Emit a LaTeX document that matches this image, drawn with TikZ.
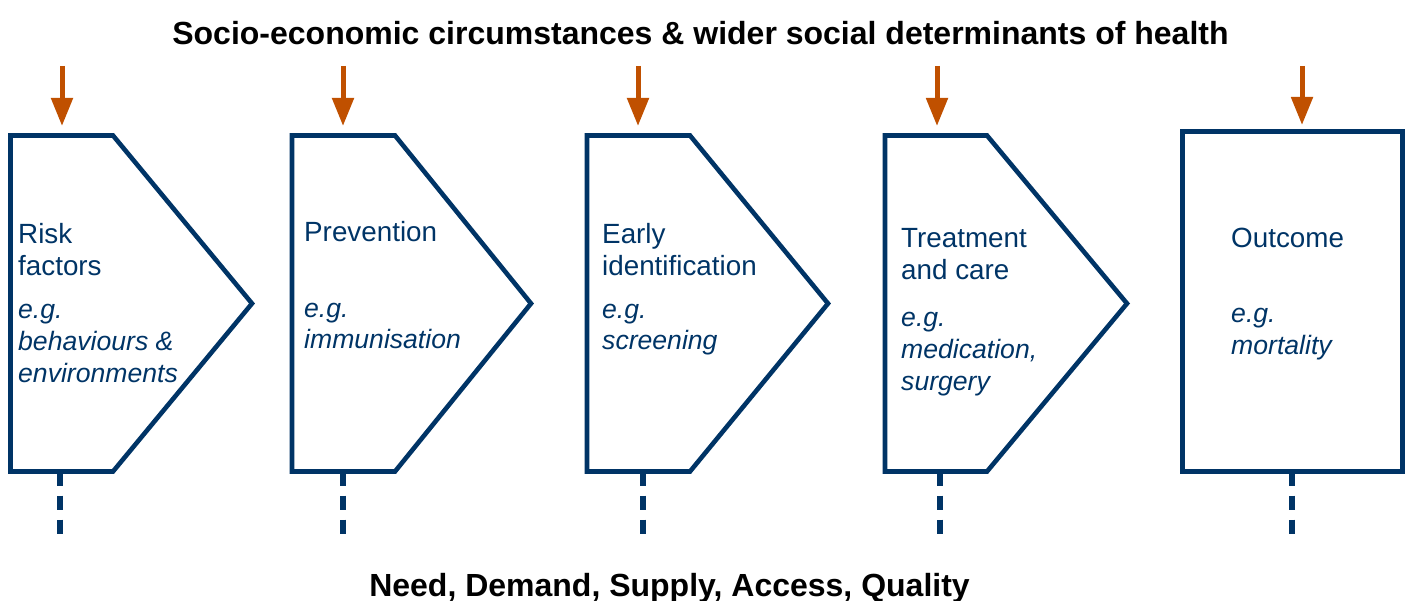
\documentclass[tikz,border=0pt]{standalone}
\usepackage{fontspec}
\setmainfont{Liberation Sans}
\usetikzlibrary{arrows.meta}
\definecolor{navy}{HTML}{003466}
\definecolor{rust}{HTML}{C05000}
\tikzset{
  stage/.style={draw=navy, line width=4.6pt, line join=miter, miter limit=10},
  infl/.style={draw=rust, line width=5pt, -{Triangle[width=21pt,length=28pt]}},
  link/.style={draw=navy, line width=5.5pt, dash pattern=on 14pt off 10pt},
  lbl/.style={anchor=base west, inner sep=0pt, text=navy, font=\fontsize{27.8}{32}\selectfont},
  ex/.style={anchor=base west, inner sep=0pt, text=navy, font=\fontsize{26.6}{32}\selectfont\itshape},
  head/.style={inner sep=0pt, anchor=base, font=\fontsize{32}{38}\selectfont\bfseries}
}
\begin{document}
\begin{tikzpicture}[x=1pt,y=-1pt]
\useasboundingbox (0,0) rectangle (1408,601);
% headings
\node[head] (top) at (700.5,44.5) {Socio-economic circumstances \& wider social determinants of health};
\node[head] (bot) at (669.5,596) {Need, Demand, Supply, Access, Quality};
% stage shapes
\draw[stage] (10.5,135.5) -- (113,135.5) -- (252,303.5) -- (113,471.5) -- (10.5,471.5) -- cycle;
\draw[stage] (292,135.5) -- (395,135.5) -- (531,303.5) -- (395,471.5) -- (292,471.5) -- cycle;
\draw[stage] (587,135.5) -- (690,135.5) -- (828,303.5) -- (690,471.5) -- (587,471.5) -- cycle;
\draw[stage] (885,135.5) -- (987,135.5) -- (1127,303.5) -- (987,471.5) -- (885,471.5) -- cycle;
\draw[stage] (1182.5,131.5) rectangle (1402.5,471.5);
% influence arrows
\coordinate (a1s) at (62,66);   \coordinate (a1e) at (62,126);
\coordinate (a2s) at (343,66);  \coordinate (a2e) at (343,126);
\coordinate (a3s) at (638,66);  \coordinate (a3e) at (638,126);
\coordinate (a4s) at (937,66);  \coordinate (a4e) at (937,126);
\coordinate (a5s) at (1302,66); \coordinate (a5e) at (1302,125);
\draw[infl] (a1s) -- (a1e);
\draw[infl] (a2s) -- (a2e);
\draw[infl] (a3s) -- (a3e);
\draw[infl] (a4s) -- (a4e);
\draw[infl] (a5s) -- (a5e);
% dashed links
\coordinate (d1s) at (60,471.5);   \coordinate (d1e) at (60,534.5);
\coordinate (d2s) at (343,471.5);  \coordinate (d2e) at (343,534.5);
\coordinate (d3s) at (643,471.5);  \coordinate (d3e) at (643,534.5);
\coordinate (d4s) at (940,471.5);  \coordinate (d4e) at (940,534.5);
\coordinate (d5s) at (1292,471.5); \coordinate (d5e) at (1292,534.5);
\draw[link] (d1s) -- (d1e);
\draw[link] (d2s) -- (d2e);
\draw[link] (d3s) -- (d3e);
\draw[link] (d4s) -- (d4e);
\draw[link] (d5s) -- (d5e);
% labels box 1
\node[lbl] (r1a) at (18,244) {Risk};
\node[lbl] (r1b) at (18,276) {factors};
\node[ex] (r1c) at (18,319) {e.g.};
\node[ex] (r1d) at (18,351) {behaviours \&};
\node[ex] (r1e) at (18,383) {environments};
% box 2
\node[lbl] (r2a) at (304,242) {Prevention};
\node[ex] (r2b) at (304,318) {e.g.};
\node[ex] (r2c) at (304,349) {immunisation};
% box 3
\node[lbl] (r3a) at (602,244) {Early};
\node[lbl] (r3b) at (602,276) {identification};
\node[ex] (r3c) at (602,319) {e.g.};
\node[ex] (r3d) at (602,350) {screening};
% box 4
\node[lbl] (r4a) at (901,248) {Treatment};
\node[lbl] (r4b) at (901,280) {and care};
\node[ex] (r4c) at (901,327) {e.g.};
\node[ex] (r4d) at (901,359) {medication,};
\node[ex] (r4e) at (901,391) {surgery};
% box 5
\node[lbl] (r5a) at (1231,248) {Outcome};
\node[ex] (r5b) at (1231,323) {e.g.};
\node[ex] (r5c) at (1231,355) {mortality};
\end{tikzpicture}
\end{document}
